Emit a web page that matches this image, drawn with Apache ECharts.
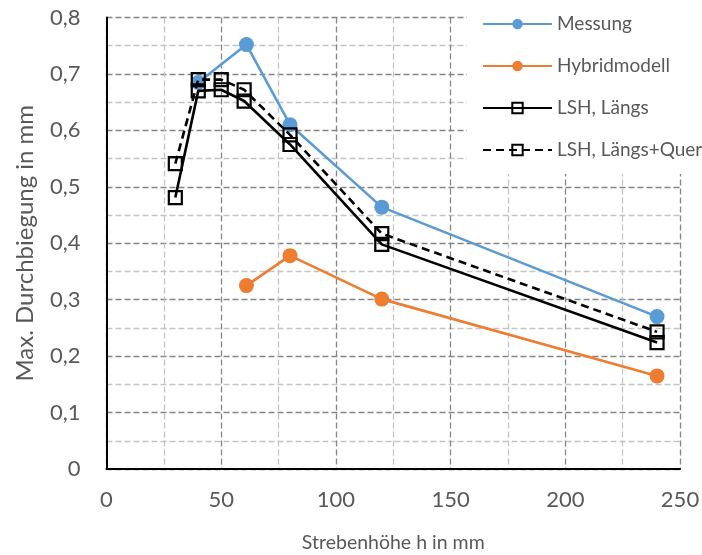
<!DOCTYPE html>
<html>
<head>
<meta charset="utf-8">
<script src="https://cdn.jsdelivr.net/npm/echarts@6/dist/echarts.min.js"></script>
<style>html,body{margin:0;padding:0;background:#fff;}#c{width:702px;height:555px;}</style>
</head>
<body>
<div id="c"></div>
<script>
const seriesNames = ['Messung', 'Hybridmodell', 'LSH, Längs', 'LSH, Längs+Quer'];
const messungX = [40, 61, 80, 120, 240];
const messungY = [0.685, 0.752, 0.610, 0.464, 0.270];
const hybridX = [61, 80, 120, 240];
const hybridY = [0.325, 0.378, 0.301, 0.165];
const lshX = [30, 40, 50, 60, 80, 120, 240];
const laengsY = [0.481, 0.670, 0.672, 0.652, 0.575, 0.398, 0.224];
const querY = [0.541, 0.690, 0.690, 0.672, 0.592, 0.417, 0.243];
const xTicks = [0, 50, 100, 150, 200, 250];
const yTicks = [0, 0.1, 0.2, 0.3, 0.4, 0.5, 0.6, 0.7, 0.8];

const pair = (xs, ys) => xs.map((x, i) => [x, ys[i]]);
const FONT = 'Lato';
const TXT = '#595959';

const chart = echarts.init(document.getElementById('c'), null, {renderer: 'canvas'});
chart.setOption({
  animation: false,
  backgroundColor: '#fff',
  grid: {left: 106.5, right: 22, top: 17.5, bottom: 86, containLabel: false, outerBoundsMode: 'none'},
  legend: {
    orient: 'vertical',
    left: 467, top: 0,
    padding: [13, 4, 13, 15],
    backgroundColor: '#fff',
    itemWidth: 69, itemHeight: 13, itemGap: 20,
    textStyle: {fontFamily: FONT, fontSize: 19, color: TXT, lineHeight: 22},
    data: seriesNames
  },
  xAxis: {
    type: 'value', min: xTicks[0], max: xTicks[xTicks.length - 1], interval: 50,
    name: 'Strebenhöhe h in mm', nameLocation: 'middle', nameGap: 64,
    nameTextStyle: {fontFamily: FONT, fontSize: 19.5, color: TXT},
    axisLine: {show: true, onZero: false, lineStyle: {color: '#000', width: 2}},
    axisTick: {show: false},
    axisLabel: {fontFamily: FONT, fontSize: 22, color: TXT, margin: 20},
    splitLine: {show: true, lineStyle: {color: '#858585', width: 1.3, type: [6, 3]}},
    minorTick: {show: false, splitNumber: 2},
    minorSplitLine: {show: true, lineStyle: {color: '#c4c4c4', width: 1.3, type: [6, 3]}}
  },
  yAxis: {
    type: 'value', min: yTicks[0], max: yTicks[yTicks.length - 1], interval: 0.1,
    name: 'Max. Durchbiegung in mm', nameLocation: 'middle', nameGap: 69,
    nameTextStyle: {fontFamily: FONT, fontSize: 24, color: TXT},
    axisLine: {show: true, lineStyle: {color: '#000', width: 2}},
    axisTick: {show: false},
    axisLabel: {fontFamily: FONT, fontSize: 22, color: TXT, margin: 26,
      formatter: v => v === 0 ? '0' : v.toFixed(1).replace('.', ',')},
    splitLine: {show: true, lineStyle: {color: '#858585', width: 1.3, type: [6, 3]}},
    minorTick: {show: false, splitNumber: 2},
    minorSplitLine: {show: true, lineStyle: {color: '#c4c4c4', width: 1.3, type: [6, 3]}}
  },
  series: [
    {name: seriesNames[0], type: 'line', data: pair(messungX, messungY),
      symbol: 'circle', symbolSize: 15, z: 3,
      lineStyle: {color: '#5B9BD5', width: 2.6}, itemStyle: {color: '#5B9BD5'}},
    {name: seriesNames[1], type: 'line', data: pair(hybridX, hybridY),
      symbol: 'circle', symbolSize: 15, z: 3,
      lineStyle: {color: '#ED7D31', width: 2.6}, itemStyle: {color: '#ED7D31'}},
    {name: seriesNames[2], type: 'line', data: pair(lshX, laengsY),
      symbol: 'rect', symbolSize: 13, z: 4,
      lineStyle: {color: '#000', width: 2.6},
      itemStyle: {color: 'rgba(0,0,0,0)', borderColor: '#000', borderWidth: 2.2}},
    {name: seriesNames[3], type: 'line', data: pair(lshX, querY),
      symbol: 'rect', symbolSize: 13, z: 4,
      lineStyle: {color: '#000', width: 2.6, type: [8, 5]},
      itemStyle: {color: 'rgba(0,0,0,0)', borderColor: '#000', borderWidth: 2.2}}
  ]
});
</script>
</body>
</html>
